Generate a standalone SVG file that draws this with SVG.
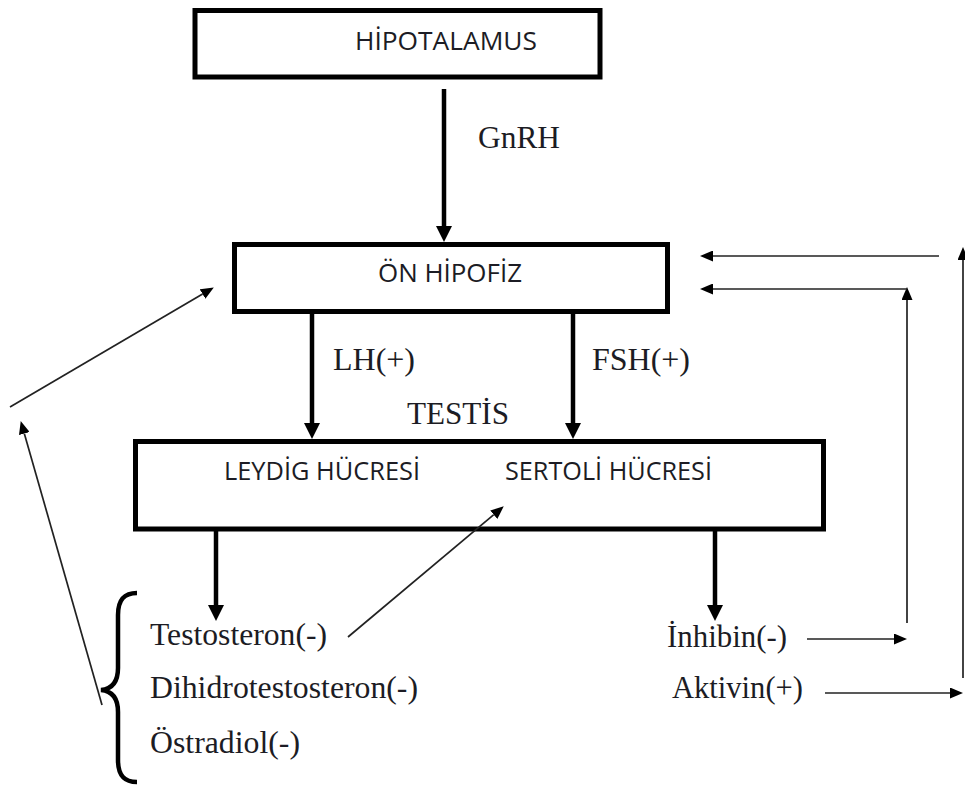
<svg xmlns="http://www.w3.org/2000/svg" width="965" height="789" viewBox="0 0 965 789">
<style>
.box{fill:#fff;stroke:#000;stroke-width:5}
.sans{font-family:"Open Sans","Liberation Sans",sans-serif;font-size:25px;fill:#1c1c24}
.serif{font-family:"Liberation Serif","Times New Roman",serif;font-size:31px;fill:#1c1c24}
.thick{stroke:#000;stroke-width:4.5;fill:none;marker-end:url(#hThick)}
.thin{stroke:#222;stroke-width:1.7;fill:none;marker-end:url(#hThin)}
.plain{stroke:#222;stroke-width:1.7;fill:none}
</style>
<defs>
<marker id="hThick" markerUnits="userSpaceOnUse" viewBox="0 0 16 16" markerWidth="16" markerHeight="16" refX="0" refY="8" orient="auto">
<path d="M0,0 L16,8 L0,16 z" fill="#000"/>
</marker>
<marker id="hThin" markerUnits="userSpaceOnUse" viewBox="0 0 13 11" markerWidth="13" markerHeight="11" refX="0" refY="5.5" orient="auto">
<path d="M0,0 L13,5.5 L0,11 z" fill="#000"/>
</marker>
</defs>

<g id="hipotalamus">
<rect class="box" x="195" y="10.5" width="405" height="66.5"/>
<text class="sans" x="355" y="50" textLength="182" lengthAdjust="spacingAndGlyphs">HİPOTALAMUS</text>
</g>

<g id="on-hipofiz">
<rect class="box" x="234.5" y="244.5" width="433" height="67"/>
<text class="sans" x="378" y="282" textLength="144" lengthAdjust="spacingAndGlyphs">ÖN HİPOFİZ</text>
</g>

<g id="testis">
<rect class="box" x="135.5" y="441.5" width="688" height="87.5"/>
<text class="serif" x="407" y="424" textLength="102" lengthAdjust="spacingAndGlyphs">TESTİS</text>
<text class="sans" x="224" y="480" textLength="196" lengthAdjust="spacingAndGlyphs">LEYDİG HÜCRESİ</text>
<text class="sans" x="505" y="480" textLength="207" lengthAdjust="spacingAndGlyphs">SERTOLİ HÜCRESİ</text>
</g>

<g id="steroids">
<path d="M137,593 C124,593 118,600 118,615 L118,668 C118,682 112,689 101,690 C112,691 118,698 118,712 L118,760 C118,775 124,782 137,782" fill="none" stroke="#000" stroke-width="4.5"/>
<text class="serif" x="150" y="645" textLength="177" lengthAdjust="spacingAndGlyphs">Testosteron(-)</text>
<text class="serif" x="150" y="698" textLength="268" lengthAdjust="spacingAndGlyphs">Dihidrotestosteron(-)</text>
<text class="serif" x="150" y="753" textLength="150" lengthAdjust="spacingAndGlyphs">Östradiol(-)</text>
</g>

<g id="inhibin">
<text class="serif" x="667" y="647" textLength="120" lengthAdjust="spacingAndGlyphs">İnhibin(-)</text>
</g>

<g id="aktivin">
<text class="serif" x="672" y="698" textLength="131" lengthAdjust="spacingAndGlyphs">Aktivin(+)</text>
</g>

<g id="labels">
<text class="serif" x="478" y="148" textLength="82" lengthAdjust="spacingAndGlyphs">GnRH</text>
<text class="serif" x="333" y="370" textLength="82" lengthAdjust="spacingAndGlyphs">LH(+)</text>
<text class="serif" x="592" y="370" textLength="98" lengthAdjust="spacingAndGlyphs">FSH(+)</text>
</g>

<g id="connectors">
<line class="thick" x1="444" y1="89" x2="444" y2="226"/>
<line class="thick" x1="312" y1="313" x2="312" y2="423"/>
<line class="thick" x1="573" y1="313" x2="573" y2="423"/>
<line class="thick" x1="216" y1="531" x2="216" y2="605"/>
<line class="thick" x1="715" y1="531" x2="715" y2="605"/>

<line class="thin" x1="10" y1="407" x2="202.6" y2="294.1"/>
<line class="thin" x1="102" y1="705" x2="24.3" y2="433.5"/>
<line class="thin" x1="348" y1="637" x2="493.8" y2="514.7"/>

<line class="thin" x1="807" y1="639" x2="894" y2="639"/>
<line class="thin" x1="825" y1="693" x2="950" y2="693"/>
<line class="thin" x1="907" y1="623" x2="907" y2="300"/>
<line class="thin" x1="907" y1="289" x2="713" y2="289"/>
<line class="thin" x1="939" y1="256" x2="713" y2="256"/>
<line class="thin" x1="963" y1="678" x2="963" y2="260"/>
</g>
</svg>
